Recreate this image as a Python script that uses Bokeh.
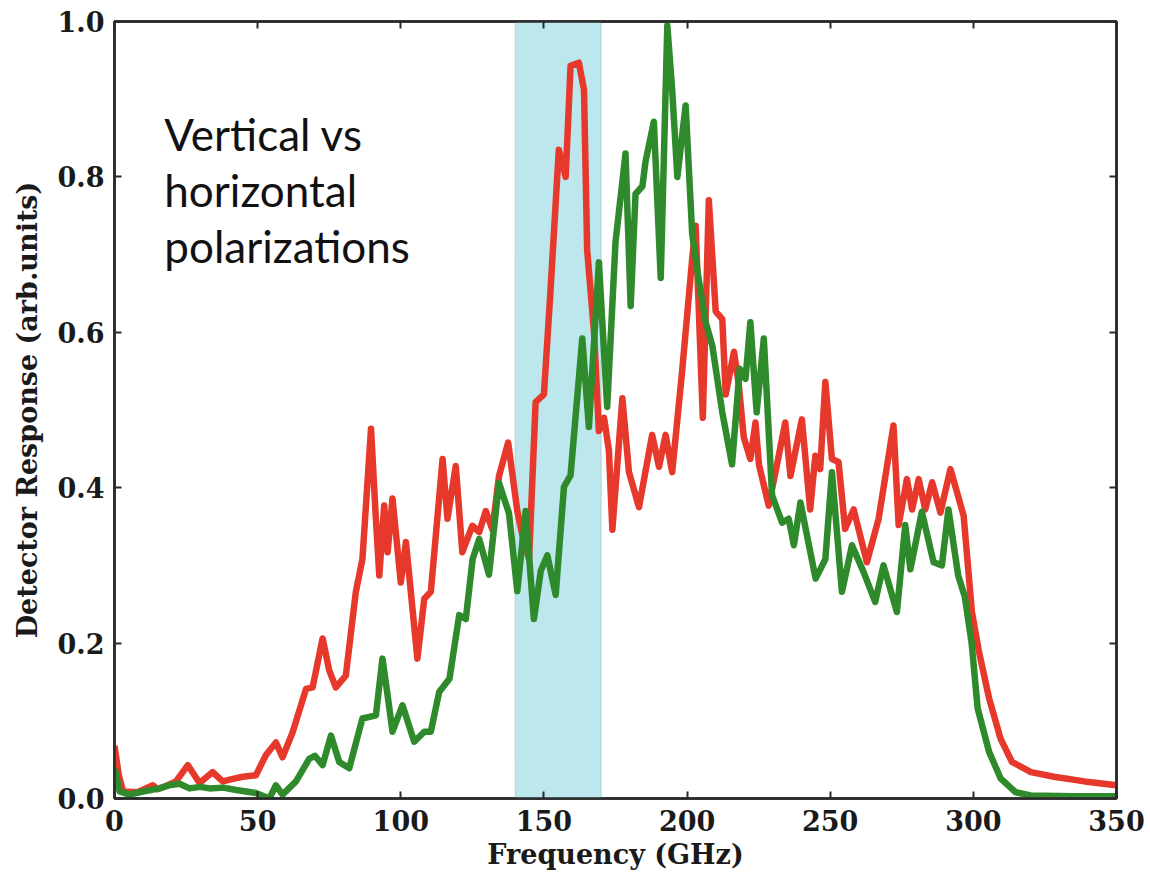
from bokeh.plotting import figure
from bokeh.models import LinearAxis, BoxAnnotation, Label, FixedTicker, PrintfTickFormatter
from bokeh.embed import file_html
from bokeh.resources import INLINE

# ---- data ----
red_freq = [0, 1.5, 3, 8, 13.4, 15, 18, 21.5, 25.6, 29.7, 34.3, 37.8, 41, 44.8, 49.4,
            52.9, 56.4, 58.7, 62.2, 66.9, 69.2, 72.7, 75, 77.3, 80.8, 84.3, 86.6, 89.6,
            91.3, 92.5, 94.2, 95.4, 97.1, 100, 101.8, 105.8, 108.2, 110.5, 114.6, 116.3,
            119.2, 121.5, 125, 127.4, 129.7, 132, 134.3, 137.5, 140.7, 143, 144.8, 147.1,
            150, 152.3, 155.2, 157.6, 159.3, 162.2, 164, 165.1, 167.5, 169.2, 171, 172.7,
            173.9, 177.4, 179.7, 183.2, 187.8, 190.2, 192.5, 194.8, 198.3, 201.8, 203,
            205.5, 207.6, 210, 212.3, 213.5, 216.4, 218.1, 219.8, 222.1, 223.9, 225.1,
            228.5, 230.9, 234.3, 236.1, 240.1, 243, 244.8, 246.5, 248.3, 250.6, 252.9,
            255.2, 258.2, 262.8, 266.9, 272.1, 273.9, 276.8, 278.6, 280.9, 283.2, 285.6,
            288.5, 292, 296.6, 299.5, 301.9, 305.5, 309.5, 313.5, 320.1, 328.2, 338.8, 350]
red_resp = [0.068, 0.03, 0.009, 0.008, 0.017, 0.012, 0.016, 0.022, 0.043, 0.02, 0.034,
            0.022, 0.025, 0.028, 0.03, 0.056, 0.072, 0.053, 0.085, 0.141, 0.143, 0.206,
            0.165, 0.143, 0.158, 0.266, 0.308, 0.476, 0.36, 0.287, 0.377, 0.317, 0.386,
            0.278, 0.33, 0.18, 0.257, 0.266, 0.437, 0.36, 0.428, 0.317, 0.351, 0.343, 0.37,
            0.346, 0.415, 0.458, 0.37, 0.33, 0.308, 0.51, 0.52, 0.654, 0.835, 0.80, 0.943,
            0.947, 0.912, 0.706, 0.60, 0.473, 0.49, 0.448, 0.346, 0.515, 0.42, 0.375,
            0.468, 0.427, 0.468, 0.42, 0.551, 0.695, 0.737, 0.49, 0.77, 0.627, 0.617, 0.52,
            0.575, 0.531, 0.465, 0.437, 0.484, 0.43, 0.377, 0.42, 0.484, 0.415, 0.488,
            0.372, 0.441, 0.424, 0.536, 0.437, 0.433, 0.347, 0.372, 0.304, 0.36, 0.48,
            0.352, 0.411, 0.372, 0.411, 0.372, 0.407, 0.368, 0.424, 0.364, 0.24, 0.19,
            0.129, 0.077, 0.047, 0.034, 0.028, 0.022, 0.017]

green_freq = [0, 1.8, 5.2, 9.9, 15.7, 19, 22.7, 26.2, 30, 33.2, 38, 42.5, 46, 49.4, 54.1,
              56.4, 58.7, 63.4, 68, 70, 72.7, 75.6, 78.5, 82, 86.6, 91.3, 93.6, 95.5, 97.1,
              100.6, 104.7, 108.2, 110.5, 113.4, 117, 120.4, 122.7, 125.1, 127.4, 130.8,
              134.3, 137.8, 140.7, 143.6, 146.5, 148.9, 151.2, 154.1, 157, 159.3, 163.4,
              165.7, 169.2, 172.1, 175, 178.5, 180.3, 182, 184.4, 185.5, 188.4, 190.8,
              193.1, 194.8, 196.6, 199.5, 201.8, 204.2, 206.5, 208.8, 212.3, 215.7, 218.4,
              220.4, 222.1, 224.3, 226.8, 229.7, 233.2, 235.5, 237.3, 239.6, 244.9, 248.3,
              250.6, 254.1, 257.6, 261.7, 265.7, 268.6, 273.3, 276.2, 278, 282, 286.1, 289,
              291.3, 294.7, 297, 299.4, 301.5, 305.5, 309.5, 314.8, 320, 335, 350]
green_resp = [0.039, 0.009, 0.005, 0.009, 0.013, 0.017, 0.019, 0.013, 0.015, 0.013, 0.014,
              0.011, 0.009, 0.007, 0.0, 0.017, 0.005, 0.022, 0.051, 0.055, 0.043, 0.081,
              0.047, 0.039, 0.103, 0.107, 0.18, 0.13, 0.086, 0.12, 0.073, 0.086, 0.086,
              0.137, 0.154, 0.236, 0.231, 0.308, 0.334, 0.288, 0.406, 0.367, 0.267, 0.37,
              0.231, 0.293, 0.313, 0.262, 0.401, 0.416, 0.592, 0.478, 0.69, 0.504, 0.716,
              0.83, 0.634, 0.778, 0.788, 0.82, 0.871, 0.67, 0.995, 0.912, 0.80, 0.892,
              0.726, 0.665, 0.613, 0.583, 0.497, 0.43, 0.553, 0.54, 0.613, 0.497, 0.592,
              0.39, 0.355, 0.36, 0.326, 0.381, 0.283, 0.308, 0.42, 0.266, 0.326, 0.291,
              0.253, 0.3, 0.24, 0.352, 0.295, 0.369, 0.304, 0.3, 0.372, 0.287, 0.26, 0.2,
              0.116, 0.06, 0.026, 0.008, 0.004, 0.003, 0.003]

band_start, band_end = 140, 170
x_ticks = [0, 50, 100, 150, 200, 250, 300, 350]
y_ticks = [0.0, 0.2, 0.4, 0.6, 0.8, 1.0]
note_lines = ["Vertical vs", "horizontal", "polarizations"]
note_x = 17.4
note_y = [0.855, 0.783, 0.711]

SERIF = "DejaVu Serif"

p = figure(width=1148, height=872, x_range=(0, 350), y_range=(0, 1),
           output_backend="svg", toolbar_location=None,
           min_border_left=114, min_border_right=32, min_border_top=21, min_border_bottom=73,
           background_fill_color="white", border_fill_color="white")
p.xgrid.grid_line_color = None
p.ygrid.grid_line_color = None
p.outline_line_color = "#2a2a2a"
p.outline_line_width = 2.5

def style_axis(ax, labels=True):
    ax.axis_line_color = "#2a2a2a"
    ax.axis_line_width = 2.5
    ax.major_tick_in = 7
    ax.major_tick_out = 0
    ax.major_tick_line_color = "#2a2a2a"
    ax.major_tick_line_width = 2
    ax.minor_tick_line_color = None
    ax.major_label_text_font = SERIF
    ax.major_label_text_font_style = "bold"
    if labels:
        ax.major_label_text_font_size = "27px"
        ax.major_label_text_color = "#1a1a1a"
    else:
        ax.major_label_text_font_size = "1px"
        ax.major_label_text_color = None
    ax.axis_label_text_font = SERIF
    ax.axis_label_text_font_style = "bold"
    ax.axis_label_text_font_size = "27px"
    ax.axis_label_text_color = "#1a1a1a"

p.xaxis.ticker = FixedTicker(ticks=x_ticks)
p.yaxis.ticker = FixedTicker(ticks=y_ticks)
p.yaxis.formatter = PrintfTickFormatter(format="%.1f")
p.xaxis.axis_label = "Frequency (GHz)"
p.yaxis.axis_label = "Detector Response (arb.units)"
style_axis(p.xaxis[0])
style_axis(p.yaxis[0])
p.xaxis.major_label_standoff = 11
p.xaxis.axis_label_standoff = 5
p.yaxis.major_label_standoff = 10
p.yaxis.axis_label_standoff = 12

top_ax = LinearAxis(ticker=FixedTicker(ticks=x_ticks), major_label_standoff=0)
style_axis(top_ax, labels=False)
p.add_layout(top_ax, "above")
right_ax = LinearAxis(ticker=FixedTicker(ticks=y_ticks), major_label_standoff=0)
style_axis(right_ax, labels=False)
p.add_layout(right_ax, "right")

band = BoxAnnotation(left=band_start, right=band_end, fill_color="#bce7ec", fill_alpha=1.0,
                     line_color="#8fa6aa", line_width=1.5, level="underlay")
p.add_layout(band)

p.line(red_freq, red_resp, line_color="#e6392b", line_width=6.5, line_join="round")
p.line(green_freq, green_resp, line_color="#2e8a2b", line_width=6.5, line_join="round")

for txt, yy in zip(note_lines, note_y):
    p.add_layout(Label(x=note_x, y=yy, text=txt, text_font="Lato", text_font_size="44px",
                       text_color="#111111", text_baseline="alphabetic"))

open("out.html", "w").write(file_html(p, INLINE))
